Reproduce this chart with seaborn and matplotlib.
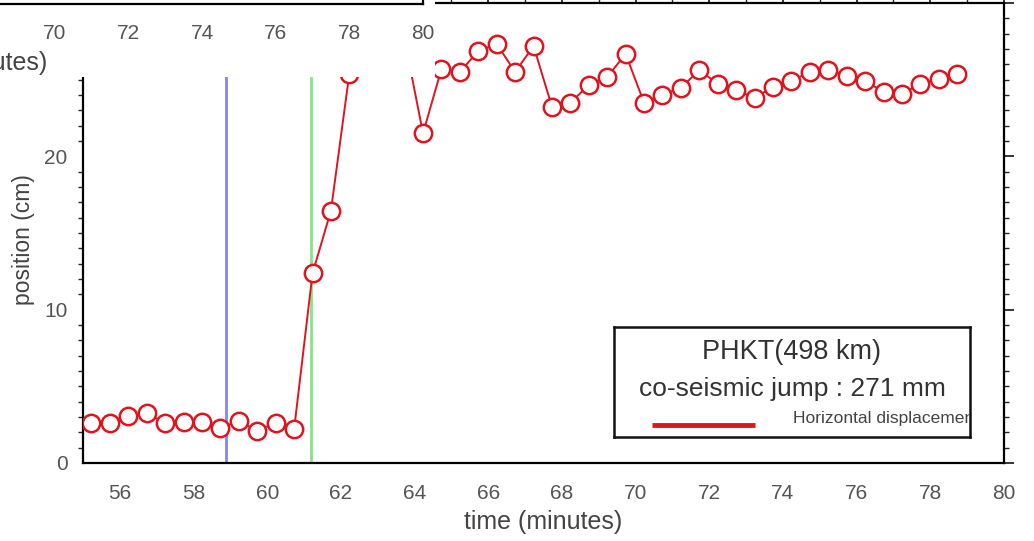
import matplotlib
matplotlib.use("Agg")
import matplotlib.pyplot as plt
from matplotlib.patches import Rectangle
from matplotlib.ticker import MultipleLocator
import numpy as np
import pandas as pd
import seaborn as sns

# GPS position samples (30 s epochs), station PHKT
time_min = [55.23, 55.73, 56.23, 56.73, 57.23, 57.73, 58.23, 58.73, 59.23, 59.73,
            60.23, 60.73, 61.23, 61.73, 62.23, 62.73, 63.23, 63.73, 64.23, 64.73,
            65.23, 65.73, 66.23, 66.73, 67.23, 67.73, 68.23, 68.73, 69.23, 69.73,
            70.23, 70.73, 71.23, 71.73, 72.23, 72.73, 73.23, 73.73, 74.23, 74.73,
            75.23, 75.73, 76.23, 76.73, 77.23, 77.73, 78.23, 78.73]
position_cm = [2.62, 2.62, 3.06, 3.23, 2.62, 2.69, 2.69, 2.30, 2.73, 2.10,
               2.62, 2.19, 12.36, 16.46, 25.4, 26.5, 27.0, 27.6, 21.5, 25.70,
               25.50, 26.87, 27.33, 25.50, 27.20, 23.23, 23.49, 24.66, 25.18, 26.68,
               23.49, 24.01, 24.46, 25.63, 24.72, 24.33, 23.81, 24.53, 24.92, 25.50,
               25.63, 25.25, 24.92, 24.20, 24.07, 24.72, 25.05, 25.37]
event_times = [58.88, 61.18]          # origin time, arrival at station
event_colors = ["#8585f5", "#86e486"]

station_label = "PHKT(498 km)"
jump_label = "co-seismic jump : 271 mm"
series_label = "Horizontal displacement"

sns.set_style("white")
plt.rcParams["font.family"] = ["Liberation Sans", "DejaVu Sans"]

W, H = 1034, 541
RED = "#e0141e"
TICK_GRAY = "#555555"


def px_rect(x0, y0, x1, y1):
    return [x0 / W, 1 - y1 / H, (x1 - x0) / W, (y1 - y0) / H]


def style_time_axis(a):
    a.set_xlim(55, 80)
    a.xaxis.set_major_locator(MultipleLocator(2))
    a.xaxis.set_minor_locator(MultipleLocator(1))
    a.tick_params(axis="x", which="major", direction="out", length=7, width=1.3,
                  labelsize=15, labelcolor=TICK_GRAY, pad=8)
    a.tick_params(axis="x", which="minor", direction="out", length=3.5, width=1.0)
    a.set_xlabel("time (minutes)", fontsize=18, color="#444444", labelpad=5)


df = pd.DataFrame({"time": time_min, "position": position_cm})

fig = plt.figure(figsize=(W / 100, H / 100), dpi=100)
ax = fig.add_axes(px_rect(83, 3, 1004, 463))

for t, c in zip(event_times, event_colors):
    ax.axvline(t, color=c, lw=2.0, zorder=1)

sns.lineplot(data=df, x="time", y="position", ax=ax, estimator=None, sort=False,
             color=RED, lw=1.4, marker="o", markersize=12.5,
             markerfacecolor="white", markeredgecolor=RED, markeredgewidth=1.8,
             zorder=3)

style_time_axis(ax)
ax.set_ylim(0, 30)
ax.yaxis.set_major_locator(MultipleLocator(10))
ax.yaxis.set_minor_locator(MultipleLocator(1))
ax.tick_params(axis="y", which="major", direction="out", length=7, width=1.3,
               labelsize=15, labelcolor=TICK_GRAY, pad=4, right=True)
ax.tick_params(axis="y", which="minor", direction="out", length=3.5, width=1.0,
               left=True, right=True)
ax.tick_params(axis="x", which="both", top=True)
ax.set_ylabel("position (cm)", fontsize=16.5, color="#444444")
ax.yaxis.set_label_coords(-48 / 921, 0.485)
for s in ax.spines.values():
    s.set_linewidth(1.6)
    s.set_color("black")

# inset sheet carrying a neighbouring panel's time axis
sheet = Rectangle((0, 1 - 77 / H), 435 / W, 77 / H, transform=fig.transFigure,
                  facecolor="white", edgecolor="none", zorder=1)
fig.patches.append(sheet)

ax2 = fig.add_axes(px_rect(-497, -2, 423, 3.5), zorder=2)
ax2.patch.set_alpha(0)
style_time_axis(ax2)
ax2.xaxis.set_label_coords(0.5 + 5 / 920, -8.6)
ax2.set_yticks([])
for name, s in ax2.spines.items():
    s.set_linewidth(1.6)
    s.set_color("black")
    s.set_visible(name in ("bottom", "right"))

# annotation box
lax = fig.add_axes(px_rect(614, 327, 970, 437), zorder=4)
lax.set_xlim(0, 1)
lax.set_ylim(0, 1)
lax.set_xticks([])
lax.set_yticks([])
lax.set_facecolor("white")
for s in lax.spines.values():
    s.set_linewidth(1.8)
    s.set_color("#111111")
lax.text(0.5, 0.77, station_label, ha="center", va="center", fontsize=19.5,
         color="#333333")
lax.text(0.5, 0.435, jump_label, ha="center", va="center", fontsize=19,
         color="#333333")
lax.plot([0.107, 0.396], [0.109, 0.109], color=RED, lw=3.5, solid_capstyle="butt")
lax.text(0.503, 0.17, series_label, ha="left", va="center", fontsize=12.5,
         color="#444444", clip_on=True)

fig.savefig("out.png", dpi=100)
